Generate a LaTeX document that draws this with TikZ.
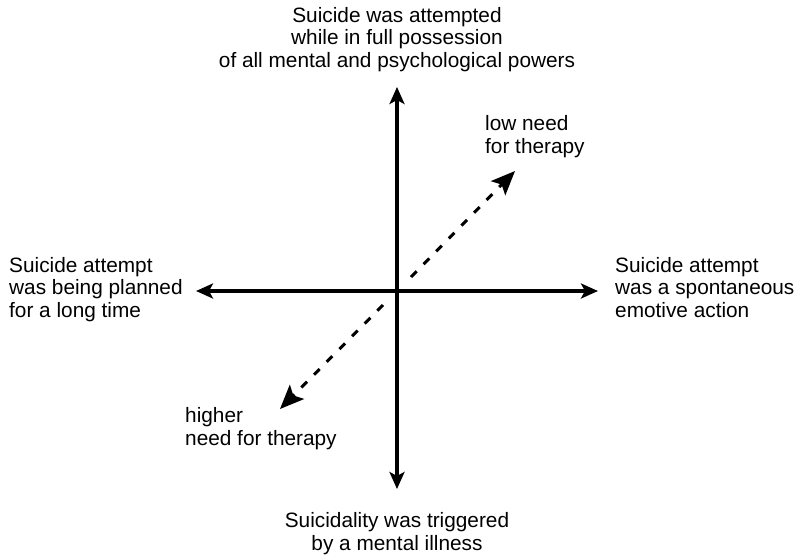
\documentclass[tikz,border=0pt]{standalone}
\usepackage{fontspec}
\setmainfont{Liberation Sans}
\usetikzlibrary{arrows.meta}
\begin{document}
\begin{tikzpicture}[x=1pt,y=-1pt,
  lbl/.style={inner sep=0pt,font=\fontsize{20.8}{22.2}\selectfont},
  axis/.style={line width=3.2pt,-{Stealth[length=17pt,width=15pt,inset=4pt]},shorten >=-1pt},
  dasharrow/.style={line width=3pt,dash pattern=on 8pt off 10pt,-{Stealth[length=24pt,width=20pt,inset=5pt]}}]
\useasboundingbox (0,0) rectangle (801,555);
\coordinate (c) at (397,291);
\coordinate (top) at (397,88);
\coordinate (bot) at (397,488);
\coordinate (lef) at (197,291);
\coordinate (rig) at (597,291);
\coordinate (d1s) at (411,277);
\coordinate (d1e) at (515,171);
\coordinate (d2s) at (383,305);
\coordinate (d2e) at (280,409);
\draw[axis] (c) -- (top);
\draw[axis] (c) -- (bot);
\draw[axis] (c) -- (lef);
\draw[axis] (c) -- (rig);
\draw[dasharrow] (d1s) -- (d1e);
\draw[dasharrow] (d2s) -- (d2e);
\node[lbl,anchor=base,align=center] (tt) at (397,67) {Suicide was attempted\\while in full possession\\of all mental and psychological powers};
\node[lbl,anchor=base west,align=left] (lt) at (9,317) {Suicide attempt\\was being planned\\for a long time};
\node[lbl,anchor=base west,align=left] (rt) at (615,317) {Suicide attempt\\was a spontaneous\\emotive action};
\node[lbl,anchor=base west,align=left] (ht) at (185,445) {higher\\need for therapy};
\node[lbl,anchor=base west,align=left] (lo) at (485,153) {low need\\for therapy};
\node[lbl,anchor=base,align=center] (bt) at (397,550) {Suicidality was triggered\\by a mental illness};
\end{tikzpicture}
\end{document}
